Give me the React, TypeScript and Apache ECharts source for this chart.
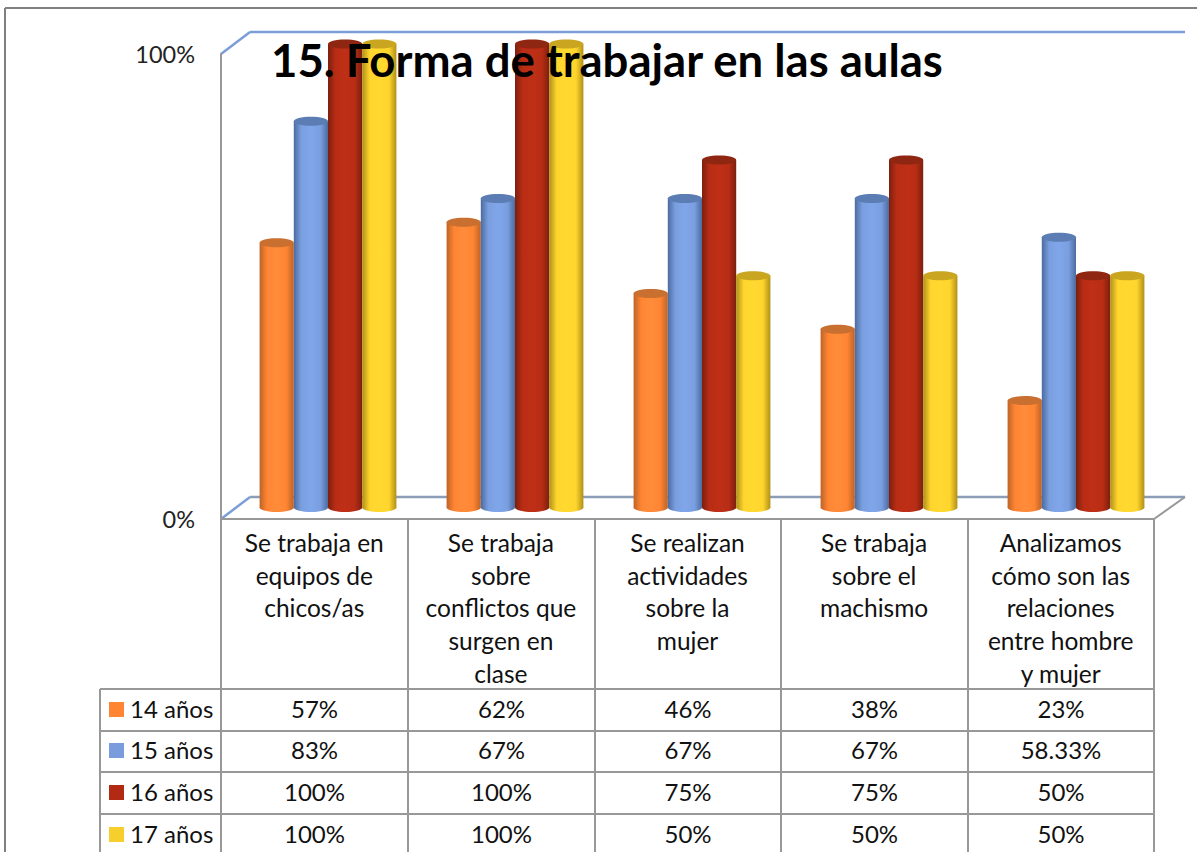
import React, { useEffect, useRef } from "react";
import * as echarts from "echarts";

const categories = [
  "Se trabaja en\nequipos de\nchicos/as",
  "Se trabaja\nsobre\nconflictos que\nsurgen en\nclase",
  "Se realizan\nactividades\nsobre la\nmujer",
  "Se trabaja\nsobre el\nmachismo",
  "Analizamos\ncómo son las\nrelaciones\nentre hombre\ny mujer",
];
const seriesNames = ["14 años", "15 años", "16 años", "17 años"];
const values14 = [57.14, 61.54, 46.15, 38.46, 23.08];
const values15 = [83.33, 66.67, 66.67, 66.67, 58.33];
const values16 = [100, 100, 75, 75, 50];
const values17 = [100, 100, 50, 50, 50];
const allValues = [values14, values15, values16, values17];
const tableText = [
  ["57%", "62%", "46%", "38%", "23%"],
  ["83%", "67%", "67%", "67%", "58.33%"],
  ["100%", "100%", "75%", "75%", "50%"],
  ["100%", "100%", "50%", "50%", "50%"],
];
const colors = [
  { base: "#FF8533", light: "#FF8C3A", dark: "#BE6326", cap: "#C96F30", key: "#FF8533" },
  { base: "#7A9FE0", light: "#80A6EA", dark: "#4C6B9F", cap: "#5C7DB3", key: "#7A9BDC" },
  { base: "#B92D15", light: "#BE2F16", dark: "#7C1F0E", cap: "#8E2612", key: "#B22A14" },
  { base: "#FFD52D", light: "#FFD930", dark: "#B09018", cap: "#C9A520", key: "#F6CF2C" },
];

const FONT = "Lato";
const GRAY = "#989898";
const BLUE = "#7C9ED8";
const colX = [221, 408, 595, 781, 968, 1154];
const rowY = [689, 731, 772, 814];
const rowText = [708, 749, 791, 833];

const line = (x1: number, y1: number, x2: number, y2: number, stroke: string, lineWidth = 2) => ({
  type: "line",
  z: 0,
  shape: { x1, y1, x2, y2 },
  style: { stroke, lineWidth },
});

function renderCylinder(seriesIdx: number) {
  return (params: any, api: any) => {
    const top = api.coord([api.value(0), api.value(1)]);
    const bottom = api.coord([api.value(0), 0]);
    const w = 34.2;
    const cx = top[0] + (seriesIdx - 1.5) * w;
    const c = colors[seriesIdx];
    const rx = w / 2;
    const ry = 4.5;
    const fill = new echarts.graphic.LinearGradient(0, 0, 1, 0, [
      { offset: 0, color: c.dark },
      { offset: 0.22, color: c.base },
      { offset: 0.5, color: c.light },
      { offset: 0.78, color: c.base },
      { offset: 1, color: c.dark },
    ]);
    return {
      type: "group",
      children: [
        { type: "ellipse", shape: { cx, cy: bottom[1], rx, ry }, style: { fill } },
        { type: "rect", shape: { x: cx - rx, y: top[1], width: w, height: bottom[1] - top[1] }, style: { fill } },
        { type: "ellipse", shape: { cx, cy: top[1], rx, ry }, style: { fill: c.cap } },
      ],
    };
  };
}

export default function App() {
  const ref = useRef<HTMLDivElement>(null);
  useEffect(() => {
    const chart = echarts.init(ref.current!, null, { renderer: "svg" });
    const graphics: any[] = [
      // outer frame
      line(5, 8, 1197, 8, "#808080"),
      line(5, 8, 5, 852, "#808080"),
      // 3D walls
      line(221, 54, 250, 32, BLUE, 2.5),
      line(250, 32, 1185, 32, BLUE, 2.5),
      line(221, 519, 250, 497, BLUE, 2.5),
      line(250, 497, 1185, 497, "#8C9DB8", 2.5),
      line(1154, 519, 1185, 497, GRAY),
    ];
    colX.forEach((x) => graphics.push(line(x, 519, x, 852, GRAY)));
    graphics.push(line(100, 689, 100, 852, GRAY));
    rowY.forEach((y) => graphics.push(line(100, y, 1154, y, GRAY)));
    seriesNames.forEach((name, r) => {
      graphics.push({
        type: "rect",
        z: 1,
        shape: { x: 109, y: rowText[r] - 6, width: 15, height: 15 },
        style: { fill: colors[r].key },
      });
      graphics.push({
        type: "text",
        z: 1,
        x: 130,
        y: rowText[r],
        style: { text: name, fill: "#111", font: `24px ${FONT}`, verticalAlign: "middle", align: "left" },
      });
      tableText[r].forEach((t, c) => {
        graphics.push({
          type: "text",
          z: 1,
          x: (colX[c] + colX[c + 1]) / 2,
          y: rowText[r],
          style: { text: t, fill: "#111", font: `24px ${FONT}`, verticalAlign: "middle", align: "center" },
        });
      });
    });

    chart.setOption({
      animation: false,
      backgroundColor: "#fff",
      title: {
        text: "15. Forma de trabajar en las aulas",
        left: 266,
        top: 31,
        z: 10,
        textStyle: { fontFamily: FONT, fontWeight: "bold", fontSize: 45.5, color: "#000" },
      },
      grid: [
        { left: 221, width: 933, top: 54, height: 465 },
        { left: 234.5, width: 935, top: 44, height: 463.5 },
      ],
      xAxis: [
        {
          type: "category",
          gridIndex: 0,
          data: categories,
          axisLine: { lineStyle: { color: GRAY, width: 2 } },
          axisTick: { show: false },
          axisLabel: {
            interval: 0,
            margin: 7,
            color: "#111",
            fontFamily: FONT,
            fontSize: 24.5,
            lineHeight: 32.7,
            verticalAlign: "top",
          },
        },
        { type: "category", gridIndex: 1, data: categories, show: false },
      ],
      yAxis: [
        {
          type: "value",
          gridIndex: 0,
          min: 0,
          max: 100,
          interval: 100,
          axisLine: { show: true, lineStyle: { color: GRAY, width: 2 } },
          axisTick: { show: false },
          splitLine: { show: false },
          axisLabel: { formatter: "{value}%", margin: 26, color: "#222", fontFamily: FONT, fontSize: 23.5 },
        },
        { type: "value", gridIndex: 1, min: 0, max: 100, show: false },
      ],
      graphic: { elements: graphics },
      series: allValues.map((vals, i) => ({
        type: "custom",
        name: seriesNames[i],
        xAxisIndex: 1,
        yAxisIndex: 1,
        z: 2 + i,
        clip: false,
        renderItem: renderCylinder(i),
        encode: { x: 0, y: 1 },
        data: vals.map((v, c) => [c, v]),
      })),
    });
    return () => chart.dispose();
  }, []);
  return <div ref={ref} style={{ position: "fixed", left: 0, top: 0, width: 1197, height: 852 }} />;
}
